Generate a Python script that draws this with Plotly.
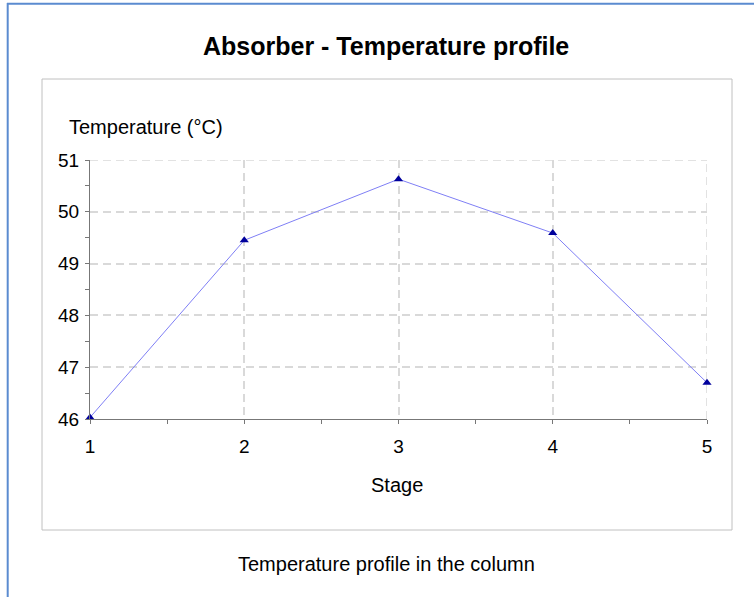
import plotly.graph_objects as go

stages = [1, 2, 3, 4, 5]
temperature = [46.03, 49.45, 50.63, 49.59, 46.70]
x_ticks = [1, 2, 3, 4, 5]
y_ticks = [46, 47, 48, 49, 50, 51]

W, H = 754, 597
L, R, T, B = 90, 707, 160, 419  # plot area in px

def px(x):
    return (x - L) / (R - L)

def py(y):
    return (B - y) / (B - T)

FONT = "Liberation Sans, Arial, sans-serif"
fig = go.Figure()
fig.add_trace(go.Scatter(
    x=stages, y=temperature, mode="lines+markers",
    line=dict(color="#7f7ff5", width=1),
    marker=dict(symbol="triangle-up", color="#00009c", size=8),
    showlegend=False, hoverinfo="x+y", cliponaxis=False))

GRIDC = "#d9d9d9"
grid = dict(showgrid=True, gridcolor=GRIDC, gridwidth=1.5, griddash="8px,5px")
fig.update_layout(
    width=W, height=H,
    margin=dict(l=L, r=W - R, t=T, b=H - B, pad=0),
    paper_bgcolor="white", plot_bgcolor="white",
    font=dict(family=FONT, color="black", size=19),
    xaxis=dict(range=[1, 5], tickvals=x_ticks, ticks="outside", ticklen=4, tickcolor="#777",
               minor=dict(dtick=0.5, tick0=1, ticks="outside", ticklen=4, tickcolor="#777", showgrid=False),
               showline=True, linecolor="#777", linewidth=1, zeroline=False,
               tickfont=dict(size=19), ticklabelstandoff=6, **grid),
    yaxis=dict(range=[46, 51], tickvals=y_ticks, ticks="outside", ticklen=4, tickcolor="#777",
               minor=dict(dtick=0.5, tick0=46, ticks="outside", ticklen=4, tickcolor="#777", showgrid=False),
               showline=True, linecolor="#777", linewidth=1, zeroline=False,
               tickfont=dict(size=19), ticklabelstandoff=2, **grid),
    xaxis2=dict(overlaying="x", range=[1, 5], tickvals=x_ticks, ticks="inside", ticklen=4, tickcolor="#777",
                minor=dict(dtick=0.5, tick0=1, ticks="inside", ticklen=4, tickcolor="#777", showgrid=False),
                showticklabels=False, showgrid=False, zeroline=False, showline=False, side="bottom"),
    yaxis2=dict(overlaying="y", range=[46, 51], tickvals=y_ticks, ticks="",
                minor=dict(dtick=0.5, tick0=46, ticks="inside", ticklen=4, tickcolor="#777", showgrid=False),
                showticklabels=False, showgrid=False, zeroline=False, showline=False, side="left"),
)

# edge gridlines (at the last tick values) that plotly omits at range ends
fig.add_shape(type="line", xref="x", yref="y", x0=x_ticks[-1], x1=x_ticks[-1],
              y0=y_ticks[0], y1=y_ticks[-1], line=dict(color=GRIDC, width=1.5, dash="8px,5px"), layer="below")
fig.add_shape(type="line", xref="x", yref="y", x0=x_ticks[0], x1=x_ticks[-1],
              y0=y_ticks[-1], y1=y_ticks[-1], line=dict(color=GRIDC, width=1.5, dash="8px,5px"), layer="below")

# frame shapes
fig.add_shape(type="rect", xref="paper", yref="paper",
              x0=px(42), x1=px(732), y0=py(79), y1=py(530),
              line=dict(color="#c0c0c0", width=1), layer="below")
fig.add_shape(type="line", xref="paper", yref="paper",
              x0=px(7.7), x1=px(7.7), y0=py(3), y1=py(610),
              line=dict(color="#5b8bd0", width=2))
fig.add_shape(type="line", xref="paper", yref="paper",
              x0=px(7), x1=px(770), y0=py(3.7), y1=py(3.7),
              line=dict(color="#5b8bd0", width=2))

fig.add_annotation(text="<b>Absorber - Temperature profile</b>", xref="paper", yref="paper",
                   x=px(386), y=py(46), showarrow=False, font=dict(size=25, family=FONT),
                   xanchor="center", yanchor="middle")
fig.add_annotation(text="Temperature (°C)", xref="paper", yref="paper",
                   x=px(67), y=py(127), showarrow=False, font=dict(size=20, family=FONT),
                   xanchor="left", yanchor="middle")
fig.add_annotation(text="Stage", xref="paper", yref="paper",
                   x=px(397), y=py(485), showarrow=False, font=dict(size=20, family=FONT),
                   xanchor="center", yanchor="middle")
fig.add_annotation(text="Temperature profile in the column", xref="paper", yref="paper",
                   x=px(386), y=py(564), showarrow=False, font=dict(size=20, family=FONT),
                   xanchor="center", yanchor="middle")

fig.write_html("out.html", config={"displayModeBar": False},
               post_script="document.body.style.margin='0';document.body.style.overflow='hidden';")
